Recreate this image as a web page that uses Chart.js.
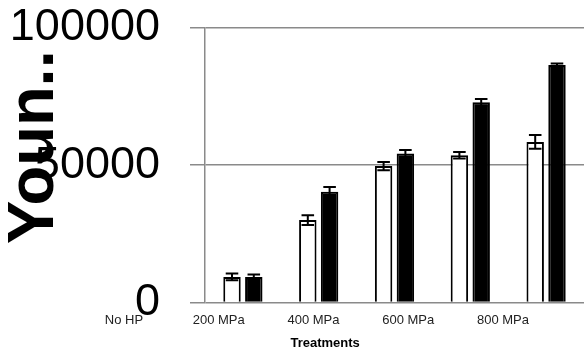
<!DOCTYPE html>
<html>
<head>
<meta charset="utf-8">
<script src="https://cdn.jsdelivr.net/npm/chart.js@4.4.1/dist/chart.umd.min.js"></script>
<style>
  html, body { margin: 0; padding: 0; background: #fff; }
  #wrap { width: 584px; height: 352px; }
</style>
</head>
<body>
<div id="wrap"><canvas id="youngChart"></canvas></div>
<script>
const categories = ['No HP', '200 MPa', '400 MPa', '600 MPa', '800 MPa'];
const seriesA = [9300, 30000, 49700, 53600, 58500];
const seriesAErr = [1200, 1800, 1500, 1200, 2500];
const seriesB = [9300, 40300, 54300, 72900, 86500];
const seriesBErr = [900, 1800, 1200, 1200, 600];
const yTicks = [0, 50000, 100000];
const xTitle = 'Treatments';

Chart.defaults.font.family = "'Liberation Sans', Arial, sans-serif";

// simple error bars drawn from the data through the y scale
const errorBars = {
    id: 'errorBars',
    afterDatasetsDraw(chart) {
        const ctx = chart.ctx;
        const yScale = chart.scales.y;
        chart.data.datasets.forEach((ds, i) => {
            const meta = chart.getDatasetMeta(i);
            meta.data.forEach((bar, j) => {
                const v = ds.data[j];
                const e = ds.errors[j];
                const top = yScale.getPixelForValue(v + e);
                const bot = yScale.getPixelForValue(v - e);
                const half = bar.width * 0.36;
                ctx.save();
                ctx.strokeStyle = '#000';
                ctx.lineWidth = 2;
                ctx.beginPath();
                ctx.moveTo(bar.x, top);
                ctx.lineTo(bar.x, bot);
                ctx.moveTo(bar.x - half, top);
                ctx.lineTo(bar.x + half, top);
                ctx.moveTo(bar.x - half, bot);
                ctx.lineTo(bar.x + half, bot);
                ctx.stroke();
                ctx.restore();
            });
        });
    }
};

// x axis title sits left of centre in the original, so draw it here
const xAxisTitle = {
    id: 'xAxisTitle',
    afterDraw(chart) {
        const s = chart.scales.xl;
        const ctx = chart.ctx;
        ctx.save();
        ctx.font = "bold 13px 'Liberation Sans', Arial, sans-serif";
        ctx.fillStyle = '#000';
        ctx.textAlign = 'center';
        ctx.textBaseline = 'middle';
        ctx.fillText(xTitle, s.left + (s.right - s.left) * 0.317, chart.height - 9);
        ctx.restore();
    }
};

const ctx = document.getElementById('youngChart').getContext('2d');
new Chart(ctx, {
    type: 'bar',
    data: {
        labels: categories,
        datasets: [
            {
                label: 'Series 1',
                data: seriesA,
                errors: seriesAErr,
                xAxisID: 'x',
                backgroundColor: '#fff',
                borderColor: '#000',
                borderWidth: 2,
                categoryPercentage: 0.575,
                barPercentage: 0.8
            },
            {
                label: 'Series 2',
                data: seriesB,
                errors: seriesBErr,
                xAxisID: 'x',
                backgroundColor: '#000',
                borderColor: '#000',
                borderWidth: 2,
                categoryPercentage: 0.575,
                barPercentage: 0.8
            }
        ]
    },
    options: {
        responsive: true,
        maintainAspectRatio: false,
        animation: false,
        layout: {
            padding: { top: 28, right: -3, bottom: 14, left: 0 }
        },
        scales: {
            x: {
                type: 'category',
                display: false
            },
            xl: {
                type: 'category',
                position: 'bottom',
                labels: categories,
                offset: false,
                grid: { display: false, drawTicks: false },
                border: { display: false },
                ticks: {
                    autoSkip: false,
                    maxRotation: 0,
                    labelOffset: -81,
                    padding: 10,
                    color: '#222',
                    font: { size: 13 }
                },
                afterFit: function (scale) {
                    scale.paddingLeft = 0;
                    scale.paddingRight = 0;
                }
            },
            y: {
                min: 0,
                max: 100000,
                afterBuildTicks: function (scale) {
                    scale.ticks = yTicks.map(v => ({ value: v }));
                },
                grid: {
                    color: '#8a8a8a',
                    lineWidth: 1.5,
                    tickLength: 15
                },
                border: { display: true, color: '#8a8a8a', width: 1.5 },
                ticks: {
                    padding: 30,
                    color: '#000',
                    font: { size: 45 },
                    callback: v => String(v)
                },
                title: {
                    display: true,
                    text: '  Youn..',
                    color: '#000',
                    font: { size: 65, weight: 'bold' },
                    padding: { top: -4, bottom: 0 }
                },
                afterFit: function (scale) {
                    scale.width = 205;
                    scale.paddingTop = 0;
                    scale.paddingBottom = 0;
                }
            }
        },
        plugins: {
            legend: { display: false },
            tooltip: { enabled: false }
        }
    },
    plugins: [errorBars, xAxisTitle]
});
</script>
</body>
</html>
